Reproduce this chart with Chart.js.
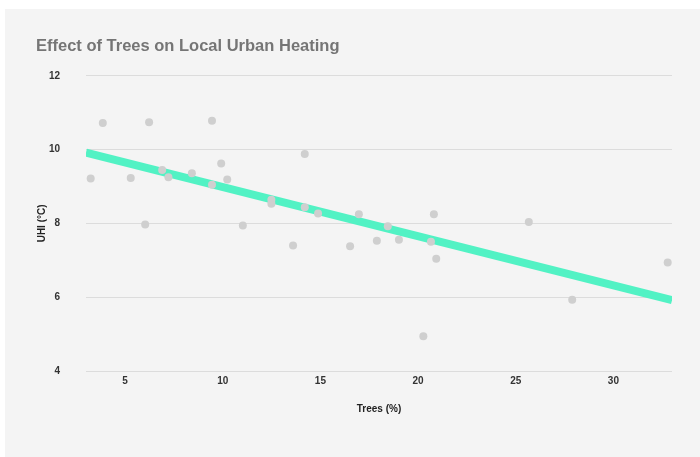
<!DOCTYPE html>
<html lang="en">
<head>
  <meta charset="UTF-8" />
  <title>Effect of Trees on Local Urban Heating</title>
  <script src="https://cdn.jsdelivr.net/npm/chart.js@4"></script>
  <style>
    html, body { margin: 0; padding: 0; background: #fff; }
    .panel { position: absolute; left: 5px; top: 9px; width: 695px; height: 448px; background: #f4f4f4; }
  </style>
</head>
<body>
  <div class="panel">
    <canvas id="chart" width="695" height="448"></canvas>
  </div>
  <script>
    // tree cover (%) vs urban heat island (°C)
    const treesPct = [3.24, 3.86, 5.29, 6.23, 6.03, 6.9, 7.22, 8.42, 9.45, 9.45, 9.92, 10.23, 11.03, 12.49, 12.49, 13.6,
      14.2, 14.2, 14.88, 16.97, 16.52, 17.89, 18.45, 19.02, 20.81, 20.66, 20.93, 20.27, 25.67, 27.89, 32.78];
    const uhi = [9.22, 10.72, 9.23, 10.74, 7.97, 9.45, 9.25, 9.36, 10.78, 9.05, 9.62, 9.19, 7.94, 8.64, 8.53, 7.4,
      9.88, 8.44, 8.27, 8.25, 7.38, 7.53, 7.92, 7.56, 8.25, 7.5, 7.04, 4.94, 8.04, 5.93, 6.94];
    const trendX = [3, 33];
    const trendY = [9.92, 5.92];
    const yTicks = [4, 6, 8, 10, 12];
    const xTicks = [5, 10, 15, 20, 25, 30];

    const tickFont = { family: "Liberation Sans", size: 10, weight: "bold" };

    new Chart(document.getElementById("chart"), {
      data: {
        datasets: [
          {
            type: "scatter",
            data: treesPct.map((x, i) => ({ x, y: uhi[i] })),
            backgroundColor: "#cfcfcf",
            borderWidth: 0,
            pointRadius: 4,
            order: 0,
          },
          {
            type: "line",
            data: trendX.map((x, i) => ({ x, y: trendY[i] })),
            borderColor: "#52f2c4",
            borderWidth: 8,
            pointRadius: 0,
            order: 1,
          },
        ],
      },
      options: {
        responsive: false,
        animation: false,
        layout: { padding: { left: 31, right: 28, top: 0, bottom: 38 } },
        plugins: {
          legend: { display: false },
          tooltip: { enabled: false },
          title: {
            display: true,
            text: "Effect of Trees on Local Urban Heating",
            align: "start",
            color: "#757575",
            font: { family: "Liberation Sans", size: 16.5, weight: "bold" },
            padding: { top: 28, bottom: 19 },
          },
        },
        scales: {
          x: {
            type: "linear",
            min: 3,
            max: 33,
            afterBuildTicks: (s) => { s.ticks = xTicks.map((v) => ({ value: v })); },
            grid: { display: false, drawTicks: false },
            border: { display: false },
            ticks: { color: "#333", font: tickFont, padding: 4, maxRotation: 0 },
            title: { display: true, text: "Trees (%)", color: "#222", font: tickFont, padding: { top: 12 } },
          },
          y: {
            type: "linear",
            min: 4,
            max: 12,
            afterBuildTicks: (s) => { s.ticks = yTicks.map((v) => ({ value: v })); },
            afterFit: (s) => { s.width = 50; },
            grid: { color: "#dcdcdc", lineWidth: 1, drawTicks: false },
            border: { display: false },
            ticks: { color: "#333", font: tickFont, padding: 26 },
            title: { display: true, text: "UHI (°C)", color: "#222", font: tickFont, padding: 0 },
          },
        },
      },
    });
  </script>
</body>
</html>
